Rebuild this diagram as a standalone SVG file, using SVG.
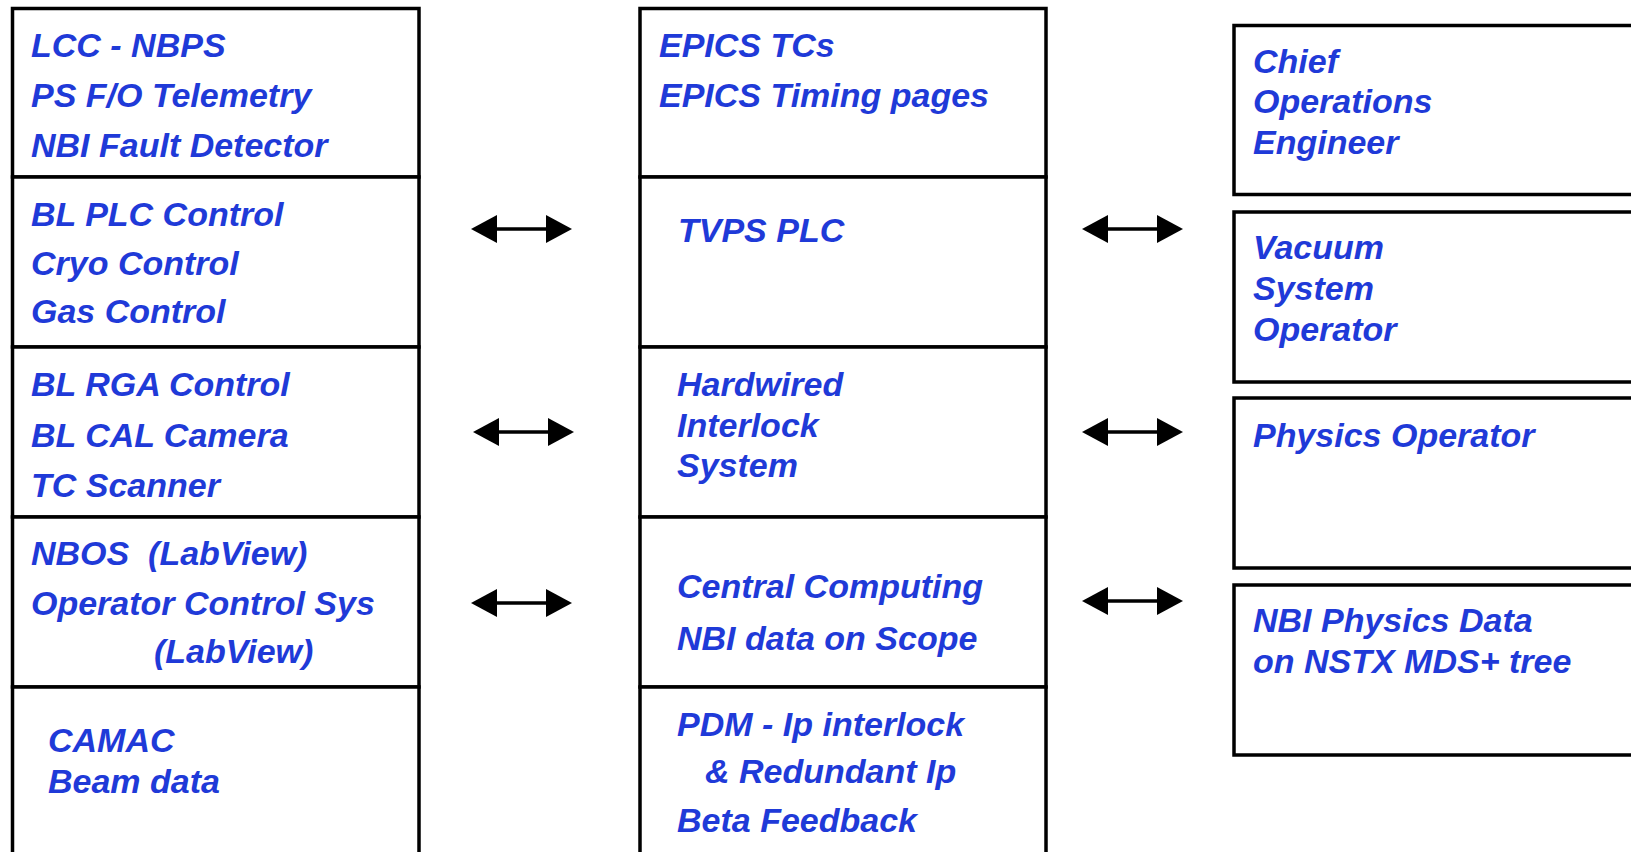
<svg xmlns="http://www.w3.org/2000/svg" width="1631" height="852" viewBox="0 0 1631 852">
  <style>
    .box { fill: #ffffff; stroke: #000000; stroke-width: 3.5; }
    .lbl { font-family: "Liberation Sans", Arial, Helvetica, sans-serif; font-weight: bold; font-style: italic; font-size: 34px; fill: #1f3ad8; }
    .link { stroke: #000000; stroke-width: 3.4; fill: none; marker-start: url(#head); marker-end: url(#head); }
  </style>
  <defs>
    <marker id="head" markerUnits="userSpaceOnUse" markerWidth="27" markerHeight="30" viewBox="0 -15 27 30" refX="0" refY="0" orient="auto-start-reverse">
      <path d="M0,-14 L26,0 L0,14 z" fill="#000000"/>
    </marker>
  </defs>
  <rect width="1631" height="852" fill="#ffffff"/>

  <!-- left column: beamline control subsystems -->
  <g id="left-lcc">
    <rect class="box" x="12.5" y="8.5" width="406.5" height="168.5"/>
    <text class="lbl" x="31" y="57">LCC - NBPS</text>
    <text class="lbl" x="31" y="107">PS F/O Telemetry</text>
    <text class="lbl" x="31" y="157">NBI Fault Detector</text>
  </g>
  <g id="left-plc">
    <rect class="box" x="12.5" y="177" width="406.5" height="170"/>
    <text class="lbl" x="31" y="226">BL PLC Control</text>
    <text class="lbl" x="31" y="275">Cryo Control</text>
    <text class="lbl" x="31" y="323">Gas Control</text>
  </g>
  <g id="left-rga">
    <rect class="box" x="12.5" y="347" width="406.5" height="170"/>
    <text class="lbl" x="31" y="396">BL RGA Control</text>
    <text class="lbl" x="31" y="447">BL CAL Camera</text>
    <text class="lbl" x="31" y="497">TC Scanner</text>
  </g>
  <g id="left-nbos">
    <rect class="box" x="12.5" y="517" width="406.5" height="170"/>
    <text class="lbl" x="31" y="565" xml:space="preserve">NBOS  (LabView)</text>
    <text class="lbl" x="31" y="615">Operator Control Sys</text>
    <text class="lbl" x="154" y="663">(LabView)</text>
  </g>
  <g id="left-camac">
    <rect class="box" x="12.5" y="687" width="406.5" height="180"/>
    <text class="lbl" x="48" y="752">CAMAC</text>
    <text class="lbl" x="48" y="793">Beam data</text>
  </g>

  <!-- middle column: site systems -->
  <g id="mid-epics">
    <rect class="box" x="640" y="8.5" width="406" height="168.5"/>
    <text class="lbl" x="659" y="57">EPICS TCs</text>
    <text class="lbl" x="659" y="107">EPICS Timing pages</text>
  </g>
  <g id="mid-tvps">
    <rect class="box" x="640" y="177" width="406" height="170"/>
    <text class="lbl" x="678" y="242">TVPS PLC</text>
  </g>
  <g id="mid-hardwired">
    <rect class="box" x="640" y="347" width="406" height="170"/>
    <text class="lbl" x="677" y="396">Hardwired</text>
    <text class="lbl" x="677" y="437">Interlock</text>
    <text class="lbl" x="677" y="477">System</text>
  </g>
  <g id="mid-central">
    <rect class="box" x="640" y="517" width="406" height="170"/>
    <text class="lbl" x="677" y="598">Central Computing</text>
    <text class="lbl" x="677" y="650">NBI data on Scope</text>
  </g>
  <g id="mid-pdm">
    <rect class="box" x="640" y="687" width="406" height="180"/>
    <text class="lbl" x="677" y="736">PDM - Ip interlock</text>
    <text class="lbl" x="705" y="783">&amp; Redundant Ip</text>
    <text class="lbl" x="677" y="832">Beta Feedback</text>
  </g>

  <!-- right column: operators and data -->
  <g id="right-coe">
    <rect class="box" x="1234" y="25.5" width="420" height="169"/>
    <text class="lbl" x="1253" y="73">Chief</text>
    <text class="lbl" x="1253" y="113">Operations</text>
    <text class="lbl" x="1253" y="154">Engineer</text>
  </g>
  <g id="right-vacuum">
    <rect class="box" x="1234" y="212" width="420" height="170"/>
    <text class="lbl" x="1253" y="259">Vacuum</text>
    <text class="lbl" x="1253" y="300">System</text>
    <text class="lbl" x="1253" y="341">Operator</text>
  </g>
  <g id="right-physics">
    <rect class="box" x="1234" y="398" width="420" height="170"/>
    <text class="lbl" x="1253" y="447">Physics Operator</text>
  </g>
  <g id="right-mds">
    <rect class="box" x="1234" y="585" width="420" height="170"/>
    <text class="lbl" x="1253" y="632">NBI Physics Data</text>
    <text class="lbl" x="1253" y="673">on NSTX MDS+ tree</text>
  </g>

  <!-- two-way links between columns -->
  <g id="connectors">
    <line class="link" x1="497" y1="229" x2="546" y2="229"/>
    <line class="link" x1="499" y1="432" x2="548" y2="432"/>
    <line class="link" x1="497" y1="603" x2="546" y2="603"/>
    <line class="link" x1="1108" y1="229" x2="1157" y2="229"/>
    <line class="link" x1="1108" y1="432" x2="1157" y2="432"/>
    <line class="link" x1="1108" y1="601" x2="1157" y2="601"/>
  </g>
</svg>
